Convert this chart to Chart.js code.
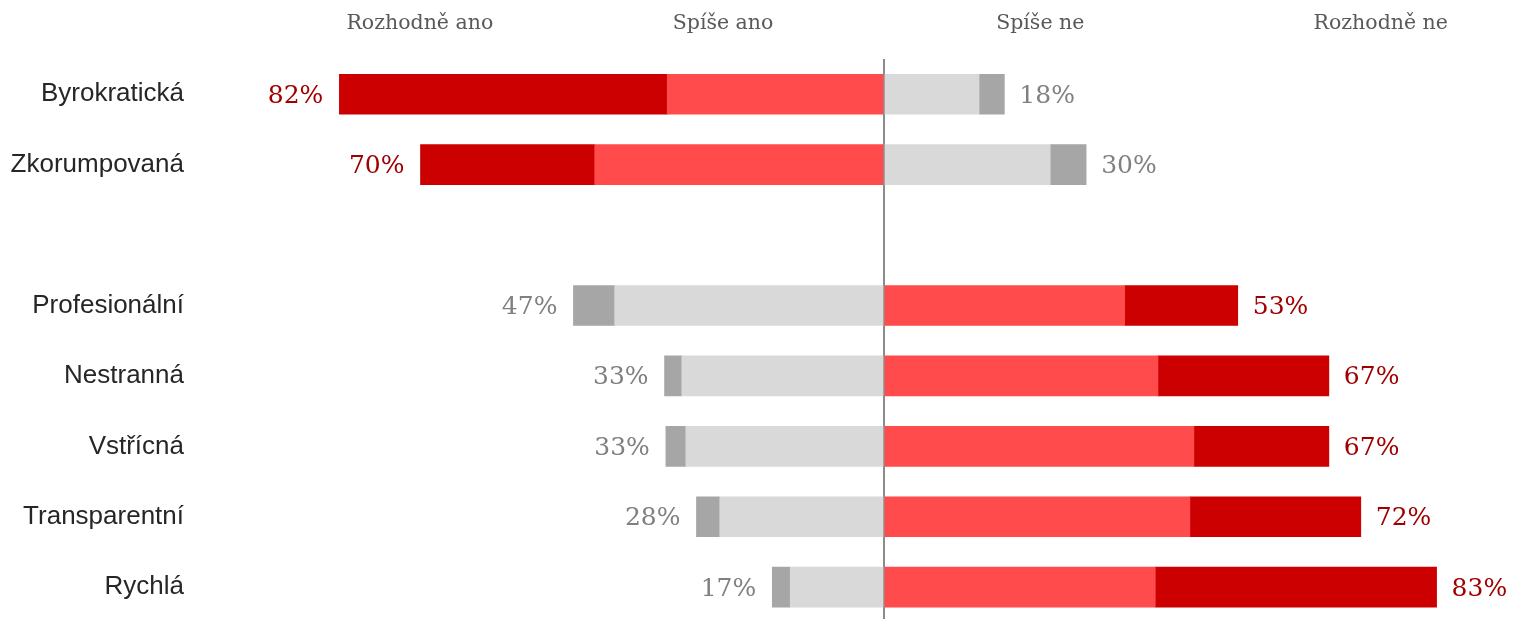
<!DOCTYPE html>
<html>
<head>
<meta charset="utf-8">
<script src="https://cdn.jsdelivr.net/npm/chart.js@4"></script>
<style>
  html, body { margin: 0; padding: 0; background: #fff; overflow: hidden; }
  #wrap { width: 1514px; height: 619px; position: relative; overflow: hidden; }
</style>
</head>
<body>
<div id="wrap"><canvas id="chart" width="1514" height="673"></canvas></div>
<script>
// categories (empty one is the gap between the two groups)
const categories = ['Byrokratická', 'Zkorumpovaná', '', 'Profesionální', 'Nestranná', 'Vstřícná', 'Transparentní', 'Rychlá'];
const seriesNames = ['Rozhodně ano', 'Spíše ano', 'Spíše ne', 'Rozhodně ne'];

// shares in %
const rozhodneAno = [49.3, 26.2, null, 6.2, 2.6, 3.0, 3.5, 2.7];
const spiseAno    = [32.6, 43.5, null, 40.5, 30.4, 29.8, 24.7, 14.1];
const spiseNe     = [14.3, 25.0, null, 36.2, 41.2, 46.6, 46.0, 40.8];
const rozhodneNe  = [3.8, 5.4, null, 17.0, 25.7, 20.3, 25.7, 42.3];

// printed totals
const anoTotals = [82, 70, null, 47, 33, 33, 28, 17];
const neTotals  = [18, 30, null, 53, 67, 67, 72, 83];

// which side is the "bad" (red) one for each row
const redSide = ['ano', 'ano', null, 'ne', 'ne', 'ne', 'ne', 'ne'];

const DARK_RED = '#CC0000', LIGHT_RED = '#FF4B4B';
const LIGHT_GREY = '#D9D9D9', DARK_GREY = '#A6A6A6';

function colorsFor(side, strong) {
    return redSide.map(s => {
        if (s === side) return strong ? DARK_RED : LIGHT_RED;
        return strong ? DARK_GREY : LIGHT_GREY;
    });
}

const neg = arr => arr.map(v => v == null ? null : -v);

// headers over the columns + total labels at bar ends
const labelsPlugin = {
    id: 'labels',
    afterDatasetsDraw(chart) {
        const { ctx, scales } = chart;
        const x = scales.x, y = scales.y;
        ctx.save();

        // column headers
        const headerAt = [-69.8, -24.2, 23.5, 74.7];
        ctx.font = '20.5px "DejaVu Serif"';
        ctx.fillStyle = '#595959';
        ctx.textAlign = 'center';
        ctx.textBaseline = 'middle';
        seriesNames.forEach((name, i) => {
            ctx.fillText(name, x.getPixelForValue(headerAt[i]), 24);
        });

        ctx.font = '25px "DejaVu Serif"';
        categories.forEach((c, i) => {
            if (anoTotals[i] == null) return;
            const yy = y.getPixelForValue(i) + 2;
            const leftEnd = -(rozhodneAno[i] + spiseAno[i]);
            const rightEnd = spiseNe[i] + rozhodneNe[i];

            ctx.fillStyle = redSide[i] === 'ano' ? '#A00000' : '#808080';
            ctx.textAlign = 'right';
            ctx.fillText(anoTotals[i] + '%', x.getPixelForValue(leftEnd) - 16, yy);

            ctx.fillStyle = redSide[i] === 'ne' ? '#A00000' : '#808080';
            ctx.textAlign = 'left';
            ctx.fillText(neTotals[i] + '%', x.getPixelForValue(rightEnd) + 15, yy);
        });
        ctx.restore();
    }
};

new Chart(document.getElementById('chart'), {
    type: 'bar',
    data: {
        labels: categories,
        datasets: [
            { label: 'Spíše ano', data: neg(spiseAno), backgroundColor: colorsFor('ano', false) },
            { label: 'Rozhodně ano', data: neg(rozhodneAno), backgroundColor: colorsFor('ano', true) },
            { label: 'Spíše ne', data: spiseNe, backgroundColor: colorsFor('ne', false) },
            { label: 'Rozhodně ne', data: rozhodneNe, backgroundColor: colorsFor('ne', true) }
        ]
    },
    options: {
        indexAxis: 'y',
        responsive: false,
        animation: false,
        barThickness: 40,
        layout: { padding: { top: 59, right: 0, bottom: 0, left: 0 } },
        plugins: {
            legend: { display: false },
            tooltip: { enabled: false }
        },
        scales: {
            x: {
                stacked: true,
                min: -100,
                max: 94.74,
                ticks: { display: false, stepSize: 10 },
                border: { display: false },
                grid: {
                    drawTicks: false,
                    lineWidth: 2,
                    color: c => c.tick && c.tick.value === 0 ? '#8C8C8C' : 'rgba(0,0,0,0)'
                },
                afterFit(scale) { scale.height = 0; }
            },
            y: {
                stacked: true,
                border: { display: false },
                grid: { display: false, drawTicks: false },
                ticks: {
                    padding: 35,
                    color: '#262626',
                    font: { family: '"Liberation Sans", Arial, sans-serif', size: 26 }
                },
                afterFit(scale) { scale.width = 219; }
            }
        }
    },
    plugins: [labelsPlugin]
});
</script>
</body>
</html>
